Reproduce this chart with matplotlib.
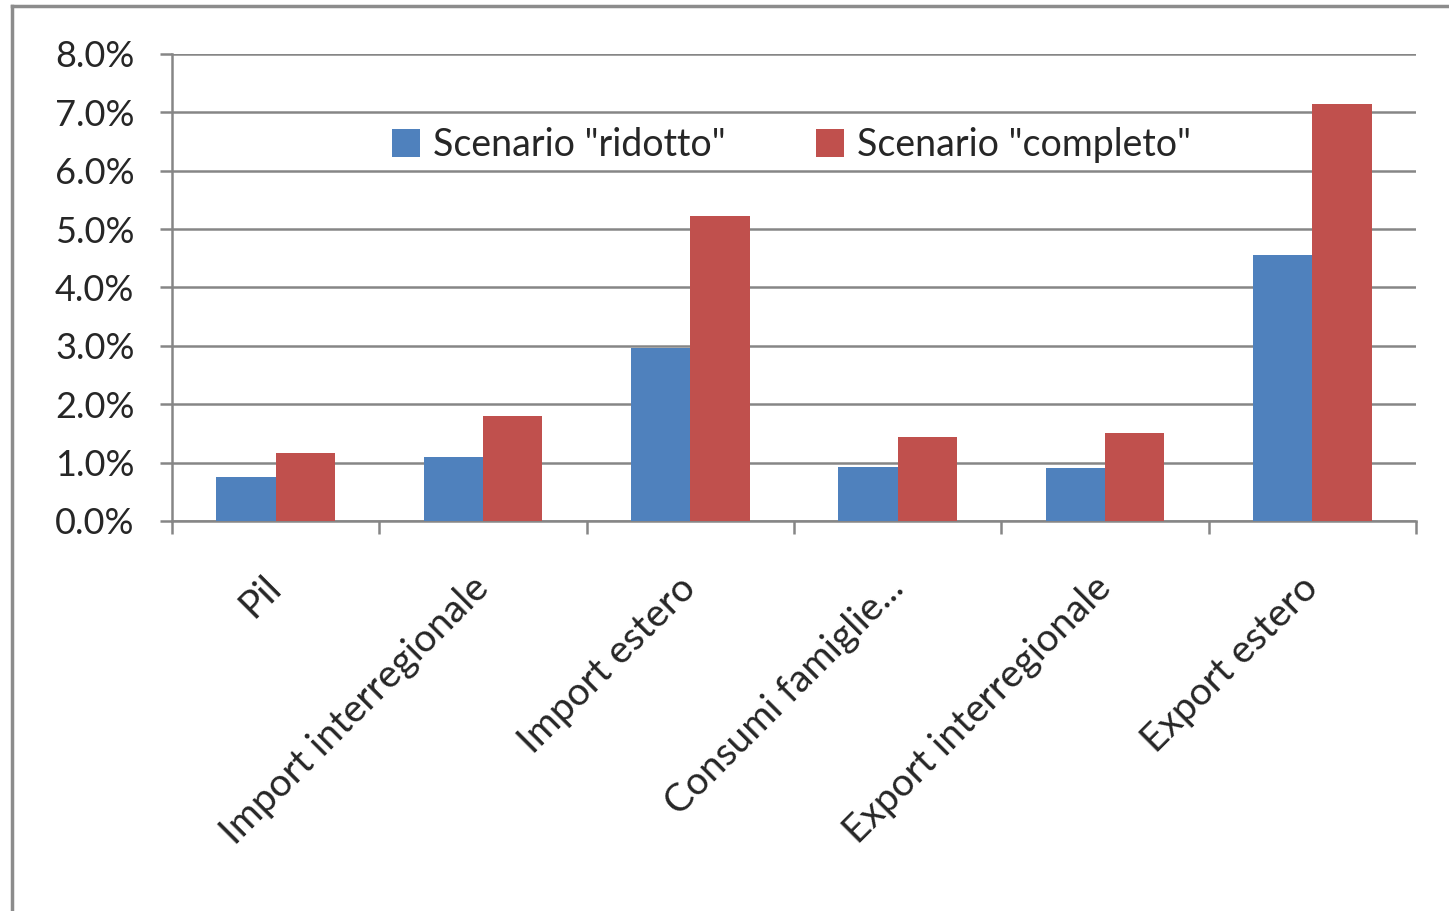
import numpy as np
import matplotlib
matplotlib.use("Agg")
import matplotlib.pyplot as plt
from matplotlib.lines import Line2D
from matplotlib.ticker import FuncFormatter

plt.rcParams['font.family'] = ['Lato', 'DejaVu Sans']

categories = ["Pil", "Import interregionale", "Import estero",
              "Consumi famiglie...", "Export interregionale", "Export estero"]
ridotto = [0.76, 1.10, 2.96, 0.92, 0.91, 4.55]     # %
completo = [1.17, 1.80, 5.22, 1.44, 1.50, 7.14]    # %
series_names = ['Scenario "ridotto"', 'Scenario "completo"']

BLUE, RED = "#4F81BD", "#C0504D"
GRID = "#868686"
TXT = "#262626"

W, H = 1449, 911
fig = plt.figure(figsize=(W/100, H/100), dpi=100)
ax = fig.add_axes([172/W, 1-521/H, (1416-172)/W, (521-54)/H])

x = np.arange(len(categories)); w = 1/3.5
ax.bar(x - w/2, ridotto, w, color=BLUE, label=series_names[0], zorder=3)
ax.bar(x + w/2, completo, w, color=RED, label=series_names[1], zorder=3)

ax.set_xlim(-0.5, len(categories) - 0.5)
ax.set_ylim(0, 8)
ax.set_yticks(np.arange(0, 9, 1))
ax.yaxis.set_major_formatter(FuncFormatter(lambda v, p: f"{v:.1f}%"))
ax.grid(axis="y", color=GRID, lw=1.8, zorder=0)

# confini categorie come tick, etichette al centro
ax.set_xticks(np.arange(-0.5, len(categories)), minor=False)
ax.set_xticklabels([])
ax.set_xticks(x, minor=True)
ax.set_xticklabels(categories, minor=True, rotation=45, ha="right",
                   va="center", rotation_mode="anchor", fontsize=28, color=TXT)
ax.tick_params(axis="x", which="major", length=9, width=1.8, color=GRID, direction="out")
ax.tick_params(axis="x", which="minor", length=0, pad=44)
ax.tick_params(axis="y", length=9, width=1.8, color=GRID, labelsize=26,
               labelcolor=TXT, pad=18)

for s in ["top", "right"]:
    ax.spines[s].set_visible(False)
for s in ["left", "bottom"]:
    ax.spines[s].set_color(GRID)
    ax.spines[s].set_linewidth(1.8)

ax.legend(loc="center", bbox_to_anchor=(0.498, 0.805), ncol=2, frameon=False,
          fontsize=27, handlelength=0.75, handleheight=0.75, handletextpad=0.35,
          columnspacing=2.4, labelcolor=TXT)

# bordo esterno del grafico
fig.add_artist(Line2D([12/W, 12/W], [0, 1-6/H], color="#8c8c8c", lw=2.5))
fig.add_artist(Line2D([12/W, 1], [1-6/H, 1-6/H], color="#8c8c8c", lw=2.5))

fig.savefig("out.png", dpi=100)
